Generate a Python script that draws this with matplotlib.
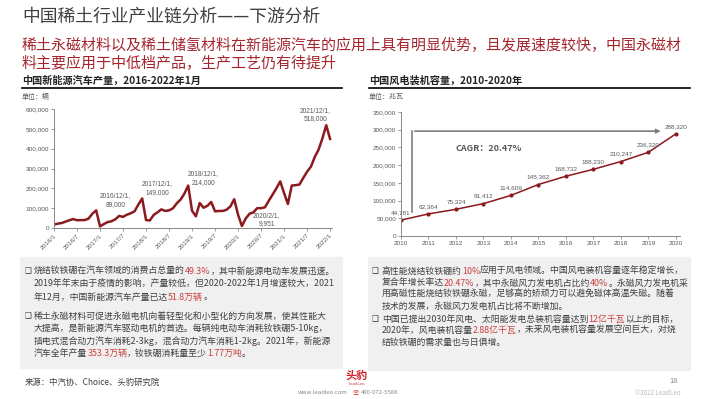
import numpy as np
import matplotlib
matplotlib.use("Agg")
import matplotlib.pyplot as plt

plt.rcParams['font.family'] = ['Noto Sans CJK SC', 'DejaVu Sans']

# ---- data ----
nev_months = ['2016/1', '2016/7', '2017/1', '2017/7', '2018/1', '2018/7', '2019/1',
              '2019/7', '2020/1', '2020/7', '2021/1', '2021/7', '2022/1']
nev_prod = [17000, 22000, 25000, 32000, 39000, 45000, 39000, 40000, 40000, 47000, 72000, 89000,
            8000, 20000, 30000, 34000, 44000, 61000, 56000, 67000, 74000, 84000, 118000, 149000,
            40000, 38000, 66000, 79000, 94000, 86000, 89000, 99000, 124000, 143000, 173000, 214000,
            87000, 59000, 126000, 102000, 112000, 131000, 84000, 86000, 86000, 92000, 109000, 145000,
            67000, 9951, 48000, 72000, 79000, 100000, 100000, 104000, 137000, 168000, 200000, 235000,
            176000, 121000, 214000, 216000, 219000, 252000, 284000, 309000, 358000, 395000, 452000, 518000,
            449000]
nev_notes = {11: '2016/12/1,\n89,000', 23: '2017/12/1,\n149,000', 35: '2018/12/1,\n214,000',
             49: '2020/2/1,\n9,951', 71: '2021/12/1,\n518,000'}

wind_years = [2010, 2011, 2012, 2013, 2014, 2015, 2016, 2017, 2018, 2019, 2020]
wind_cap = [44781, 62364, 75324, 91412, 114609, 145362, 168732, 188230, 210247, 236320, 288320]

RED = '#8b1a1f'
GRAY = '#595959'
HL = '#c8403f'
TXT = '#404040'

fig = plt.figure(figsize=(7.1, 3.99), dpi=100)
fig.patch.set_facecolor('white')

# overlay in pixel coordinates for slide text
bg = fig.add_axes([0, 0, 1, 1])
bg.set_xlim(0, 710)
bg.set_ylim(399, 0)
bg.axis('off')

bg.text(22, 17, '中国稀土行业产业链分析——下游分析', fontsize=12.8, color='#3f3f3f', va='center')
bg.text(22, 45, '稀土永磁材料以及稀土储氢材料在新能源汽车的应用上具有明显优势，且发展速度较快，中国永磁材',
        fontsize=10.8, color='#a3262d', va='center')
bg.text(22, 63, '料主要应用于中低档产品，生产工艺仍有待提升', fontsize=10.8, color='#a3262d', va='center')

bg.text(22, 81, '中国新能源汽车产量，2016-2022年1月', fontsize=7.3, fontweight='bold', color='#222222', va='center')
bg.text(369, 81, '中国风电装机容量，2010-2020年', fontsize=7.3, fontweight='bold', color='#222222', va='center')
bg.plot([22, 342], [88, 88], color='black', lw=1.2)
bg.plot([369, 690], [88, 88], color='black', lw=1.2)
bg.text(22, 97, '单位：辆', fontsize=5, color=GRAY, va='center')
bg.text(369, 97, '单位：兆瓦', fontsize=5, color=GRAY, va='center')

# gray text boxes
bg.add_patch(plt.Rectangle((20, 257), 322, 111, color='#f0f0f0', zorder=0))
bg.add_patch(plt.Rectangle((368, 257), 322, 113, color='#f0f0f0', zorder=0))


def rich(x, y, parts, size=6.4):
    t = bg.text(x, y, parts[0][0], color=parts[0][1], fontsize=size, va='center', ha='left')
    for s, c in parts[1:]:
        t = bg.annotate(s, xy=(1, 0), xycoords=t, va='bottom', ha='left', color=c, fontsize=size)
    return t


def bullet(x, y):
    bg.text(x, y, '❑', fontsize=5.5, color='#333333', va='center', ha='left')


left_lines = [
    (271, [('烧结钕铁硼在汽车领域的消费占总量的', TXT), ('49.3%', HL), ('，其中新能源电动车发展迅速。', TXT)], True),
    (284, [('2019年年末由于疫情的影响，产量较低，但2020-2022年1月增速较大，2021', TXT)], False),
    (297, [('年12月，中国新能源汽车产量已达', TXT), ('51.8万辆', HL), ('。', TXT)], False),
    (316, [('稀土永磁材料可促进永磁电机向着轻型化和小型化的方向发展，使其性能大', TXT)], True),
    (328.5, [('大提高，是新能源汽车驱动电机的首选。每辆纯电动车消耗钕铁硼5-10kg，', TXT)], False),
    (341, [('插电式混合动力汽车消耗2-3kg，混合动力汽车消耗1-2kg。2021年，新能源', TXT)], False),
    (353.5, [('汽车全年产量', TXT), ('353.3万辆', HL), ('，钕铁硼消耗量至少', TXT), ('1.77万吨', HL), ('。', TXT)], False),
]
for y, parts, b in left_lines:
    if b:
        bullet(25, y)
    rich(34, y, parts)

right_lines = [
    (271, [('高性能烧结钕铁硼约', TXT), ('10%', HL), ('应用于风电领域。中国风电装机容量逐年稳定增长，', TXT)], True),
    (283, [('复合年增长率达', TXT), ('20.47%', HL), ('，其中永磁风力发电机占比约', TXT), ('40%', HL), ('。永磁风力发电机采', TXT)], False),
    (294.5, [('用高磁性能烧结钕铁硼永磁，足够高的矫顽力可以避免磁体高温失磁。随着', TXT)], False),
    (306, [('技术的发展，永磁风力发电机占比将不断增加。', TXT)], False),
    (319, [('中国已提出2030年风电、太阳能发电总装机容量达到', TXT), ('12亿千瓦', HL), ('以上的目标，', TXT)], True),
    (330.5, [('2020年，风电装机容量', TXT), ('2.88亿千瓦', HL), ('，未来风电装机容量发展空间巨大，对烧', TXT)], False),
    (342, [('结钕铁硼的需求量也与日俱增。', TXT)], False),
]
for y, parts, b in right_lines:
    if b:
        bullet(372, y)
    rich(382, y, parts)

bg.text(25, 382, '来源：中汽协、Choice、头豹研究院', fontsize=6, color=TXT, va='center')
bg.text(346, 375, '头豹', fontsize=8, fontweight='bold', color='#d4232a', va='center')
bg.text(349, 384, 'LeadLeo', fontsize=3, color='#d4232a', va='center')
bg.text(298, 393, 'www.leadleo.com', fontsize=4.3, color='#888888', va='center')
bg.text(353, 393, '☏', fontsize=4.5, color='#d4232a', va='center')
bg.text(361, 393, '400-072-5588', fontsize=4.3, color='#888888', va='center')
bg.text(678, 381, '18', fontsize=5.5, color='#888888', va='center', ha='right')
bg.text(681, 393, '©2022 LeadLeo', fontsize=4.5, color='#bbbbbb', va='center', ha='right')

# ---- left chart ----
ax1 = fig.add_axes([54 / 710, 1 - 228 / 399, 278 / 710, 119 / 399])
x1 = np.arange(len(nev_prod))
ax1.plot(x1, nev_prod, color=RED, lw=1.8)
ax1.set_xlim(0, 72.5)
ax1.set_ylim(0, 600000)
ax1.set_yticks(np.arange(0, 600001, 100000))
ax1.set_yticklabels([f'{v:,}' for v in range(0, 600001, 100000)])
ax1.set_xticks(np.arange(0, 73, 6))
ax1.set_xticklabels(nev_months, rotation=45, ha='right', rotation_mode='anchor')
offsets = {11: (14, 2), 23: (11, 2), 35: (11, 0), 49: (18, -1), 71: (-8, 2)}
for i, txt in nev_notes.items():
    dx, dy = offsets[i]
    ax1.annotate(txt, (i, nev_prod[i]), xytext=(dx, dy), textcoords='offset points',
                 ha='center', va='bottom', fontsize=4.8, color=GRAY,
                 family='Liberation Sans', linespacing=1.35)

# ---- right chart ----
ax2 = fig.add_axes([401 / 710, 1 - 236 / 399, 279 / 710, 124 / 399])
ax2.plot(wind_years, wind_cap, color=RED, lw=1.1, marker='o', ms=2)
ax2.set_xlim(2010, 2020.15)
ax2.set_ylim(0, 350000)
ax2.set_xticks(wind_years)
ax2.set_yticks(np.arange(0, 350001, 50000))
ax2.set_yticklabels([f'{v:,}' for v in range(0, 350001, 50000)])
for yr, v in zip(wind_years, wind_cap):
    ax2.annotate(f'{v:,}', (yr, v), xytext=(0, 3.5), textcoords='offset points',
                 ha='center', va='bottom', fontsize=4.6, color=GRAY, family='Liberation Sans')
# CAGR arrow
ax2.plot([2010.4, 2010.4], [68000, 296000], color='#7f7f7f', lw=1.2)
ax2.annotate('', xy=(2019.55, 296000), xytext=(2010.4, 296000),
             arrowprops=dict(arrowstyle='-|>', color='#7f7f7f', lw=1.2, mutation_scale=6))
ax2.text(2012.0, 248000, 'CAGR：20.47%', fontsize=6.5, fontweight='bold', color=GRAY, va='center')

for ax in (ax1, ax2):
    for s in ('top', 'right'):
        ax.spines[s].set_visible(False)
    for s in ('left', 'bottom'):
        ax.spines[s].set_color('#888888')
        ax.spines[s].set_linewidth(0.7)
    ax.tick_params(length=2, width=0.6, color='#888888', labelsize=4.6, labelcolor=GRAY, pad=1.5)
    for lab in ax.get_xticklabels() + ax.get_yticklabels():
        lab.set_family('Liberation Sans')

fig.savefig('out.png', dpi=100)
